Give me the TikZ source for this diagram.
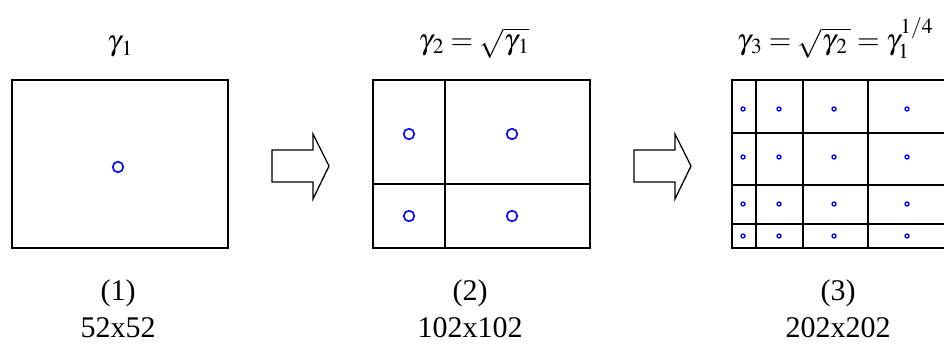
\documentclass[tikz,border=0pt]{standalone}
\usepackage{mathptmx}
\usepackage{fontspec}
\setmainfont{Liberation Serif}
\usetikzlibrary{positioning}

\begin{document}
\begin{tikzpicture}[x=1pt,y=-1pt,line width=1.8pt,
  cellline/.style={black,line width=1.8pt},
  probe/.style={blue,line width=1.6pt},
  smallprobe/.style={blue,line width=1.3pt},
  blockarrow/.style={draw,black,line width=1.3pt,fill=white,line join=miter},
  txt/.style={font=\fontsize{30}{30}\selectfont,inner sep=0pt},
  ttl/.style={font=\fontsize{29}{29}\selectfont,inner sep=0pt,anchor=base}]
\useasboundingbox (0,0) rectangle (944,345);

\foreach \n/\xc/\num/\res in {%
  1/118/{(1)}/{52x52},
  2/470/{(2)}/{102x102},
  3/838/{(3)}/{202x202}}{%
  \node[txt] (num\n) at (\xc,293) {\num};
  \node[txt] (res\n) at (\xc,328) {\res};
}

\node[ttl] (title1) at (120,51) {$\gamma_{\,1}$};
\node[ttl] (title2) at (474,49) {$\gamma_{\,2} = \sqrt{\gamma_{\,1}}$};
\node[ttl] (title3) at (835,49) {$\gamma_{\,3} = \sqrt{\gamma_{\,2}\,} = \gamma_{1}^{1/4}$};

% (1) one window
\draw[cellline] (12,80) rectangle (228,248);
\draw[probe] (118,167) circle (5.3);

% (2) split in four
\draw[cellline] (373,80) rectangle (590,248);
\draw[cellline] (445,80) -- (445,248);
\draw[cellline] (373,184) -- (590,184);
\foreach \x/\y in {409/134,512/134,409/216,512/216}
  \draw[probe] (\x,\y) circle (5.3);

% (3) split again, runs past the right edge
\draw[cellline] (944,80) -- (732,80) -- (732,248) -- (944,248);
\foreach \x in {756,803,868}
  \draw[cellline] (\x,80) -- (\x,248);
\foreach \y in {133,185,224}
  \draw[cellline] (732,\y) -- (944,\y);
\foreach \x in {743,779,834,907}
  \foreach \y in {109,157,204,236}
    \draw[smallprobe] (\x,\y) circle (2);

% Arrows between the stages
\foreach \xs in {0,362}{%
  \begin{scope}[xshift=\xs pt]
    \draw[blockarrow] (272,150) -| (313,134) -- (329,166) -- (313,199)
      |- (272,182) -- cycle;
  \end{scope}
}

\end{tikzpicture}
\end{document}
